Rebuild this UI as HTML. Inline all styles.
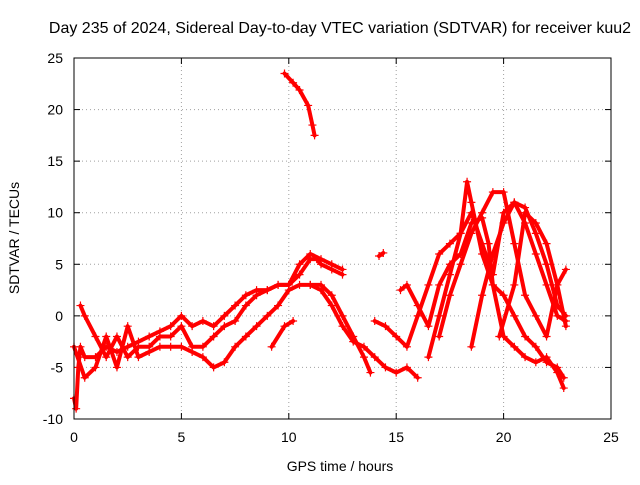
<!DOCTYPE html>
<html><head><meta charset="utf-8"><style>
body{margin:0;background:#fff}
svg{font-family:"Liberation Sans",sans-serif;font-size:14px}
</style></head><body>
<svg id="c" width="640" height="480" xmlns="http://www.w3.org/2000/svg">
<rect width="640" height="480" fill="#fff"/>
<text x="340" y="33" text-anchor="middle" style="font-size:16px">Day 235 of 2024, Sidereal Day-to-day VTEC variation (SDTVAR) for receiver kuu2</text>
<text x="340" y="471" text-anchor="middle">GPS time / hours</text>
<text transform="translate(19,238) rotate(-90)" text-anchor="middle">SDTVAR / TECUs</text>
<g id="grid"></g><g id="ticks"></g><g id="marks"></g>
<rect x="74" y="58" width="537" height="361" fill="none" stroke="#000"/>
</svg>
<script>
const xTicks=[0,5,10,15,20,25];
const yTicks=[-10,-5,0,5,10,15,20,25];
const traceA=[[9.8,23.5],[10.2,22.6],[10.5,21.9],[10.9,20.4],[11.1,18.5],[11.2,17.5]];
const traceB=[[14.2,5.8],[14.4,6.1]];
const trace1=[[0,-8],[0.1,-9],[0.2,-5],[0.3,-3],[0.5,-4],[1,-4],[1.5,-3],[2,-3.5],[2.5,-3],[3,-2.5],[3.5,-2],[4,-1.5],[4.5,-1],[5,0],[5.5,-1],[6,-0.5],[6.5,-1],[7,0],[7.5,1],[8,2],[8.5,2.5],[9,2.5],[9.5,3],[10,3],[10.5,4],[11,5.5],[11.3,5.5],[11.5,5],[12,4.5],[12.5,4]];
const trace2=[[0.3,1],[0.5,0],[1,-2],[1.5,-4],[2,-2],[2.5,-4],[3,-3],[3.5,-3],[4,-2],[4.5,-2],[5,-1],[5.5,-3],[6,-3],[6.5,-2],[7,-1],[7.5,-0.5],[8,1],[8.5,2],[9,2.5],[9.5,3],[10,3],[10.5,5],[11,6],[11.5,5.5],[12,5],[12.5,4.5]];
const trace3=[[0,-3],[0.5,-6],[1,-5],[1.5,-2],[2,-5],[2.5,-1],[3,-4],[3.5,-3.5],[4,-3],[4.5,-3],[5,-3],[5.5,-3.5],[6,-4],[6.5,-5],[7,-4.5],[7.5,-3],[8,-2],[8.5,-1],[9,0],[9.5,1],[10,2.5],[10.5,3],[11,3],[11.5,3],[12,2],[12.5,0],[13,-2],[13.5,-4],[13.8,-5.5]];
const trace4=[[9.2,-3],[9.8,-1],[10.2,-0.5]];
const trace5=[[11,3],[11.5,2.5],[12,1],[12.5,-1],[13,-2.5],[13.5,-3],[14,-4],[14.5,-5],[15,-5.5],[15.5,-5],[16,-6]];
const trace6=[[14,-0.5],[14.5,-1],[15,-2],[15.5,-3],[16,0],[16.5,3],[17,6],[17.5,7],[18,8],[18.3,13],[18.5,11],[19,6],[19.5,3],[20,2],[20.5,0],[21,-2],[21.5,-3],[22,-4.5],[22.5,-5],[22.8,-6]];
const trace7=[[15.2,2.5],[15.5,3],[16,1],[16.5,-1],[17,3],[17.5,5],[18,6],[18.5,9],[19,9.5],[19.3,7],[19.5,3],[20,-2],[20.5,-3],[21,-4],[21.5,-4.5],[22,-4],[22.5,-5.5],[22.8,-7]];
const trace8=[[16.5,-4],[17,0],[17.5,4],[18,8],[18.5,10],[19,7],[19.5,4],[20,10],[20.5,11],[21,9],[21.5,6],[22,3],[22.5,0],[22.9,-0.5]];
const trace9=[[17,-2],[17.5,2],[18,5],[18.5,8],[19,10],[19.5,12],[20,12],[20.5,7],[21,2],[21.5,0],[22,-2],[22.5,3],[22.9,4.5]];
const trace10=[[18.5,-3],[19,2],[19.5,6],[20,9],[20.5,11],[21,10.5],[21.5,8],[22,5],[22.5,1],[22.9,0]];
const trace11=[[19.8,-2],[20.5,3],[21,10],[21.5,9],[22,7],[22.5,3],[22.9,-1]];
const traces=[traceA,traceB,trace1,trace2,trace3,trace4,trace5,trace6,trace7,trace8,trace9,trace10,trace11];
const NS="http://www.w3.org/2000/svg";
const X=t=>74+t*537/25, Y=v=>419-(v+10)*361/35;
function mk(tag,attrs,parent){const e=document.createElementNS(NS,tag);for(const k in attrs)e.setAttribute(k,attrs[k]);parent.appendChild(e);return e;}
const g=document.getElementById('grid'),tk=document.getElementById('ticks'),mg=document.getElementById('marks');
xTicks.forEach(t=>{
 if(t>0&&t<25){const l=mk('line',{x1:X(t),x2:X(t),y1:58,y2:419,stroke:'#a0a0a0','stroke-dasharray':'1,3'},g);
 
 }
 const tx=mk('text',{x:X(t),y:442,'text-anchor':'middle'},tk);tx.textContent=t;
 
 
 mk('line',{x1:X(t),x2:X(t),y1:419,y2:413,stroke:'#000'},tk);mk('line',{x1:X(t),x2:X(t),y1:58,y2:64,stroke:'#000'},tk);
});
yTicks.forEach(v=>{
 if(v>-10&&v<25){const l=mk('line',{x1:74,x2:611,y1:Y(v),y2:Y(v),stroke:'#a0a0a0','stroke-dasharray':'1,3'},g);
 
 }
 const tx=mk('text',{x:63,y:Y(v)+5,'text-anchor':'end'},tk);tx.textContent=v;
 
 
 mk('line',{x1:74,x2:80,y1:Y(v),y2:Y(v),stroke:'#000'},tk);mk('line',{x1:611,x2:605,y1:Y(v),y2:Y(v),stroke:'#000'},tk);
});
traces.forEach(tr=>{
 const pl=mk('polyline',{points:tr.map(p=>X(p[0])+','+Y(p[1])).join(' '),fill:'none',stroke:'#f00','stroke-width':4,'stroke-linejoin':'round','stroke-linecap':'round'},mg);
 
 
 tr.forEach(p=>{const x=X(p[0]),y=Y(p[1]);
  const m=mk('path',{d:`M${x-4},${y}H${x+4}M${x},${y-4}V${y+4}`,stroke:'#f00','stroke-width':1.2},mg);
  
  });
});
</script>
</body></html>
